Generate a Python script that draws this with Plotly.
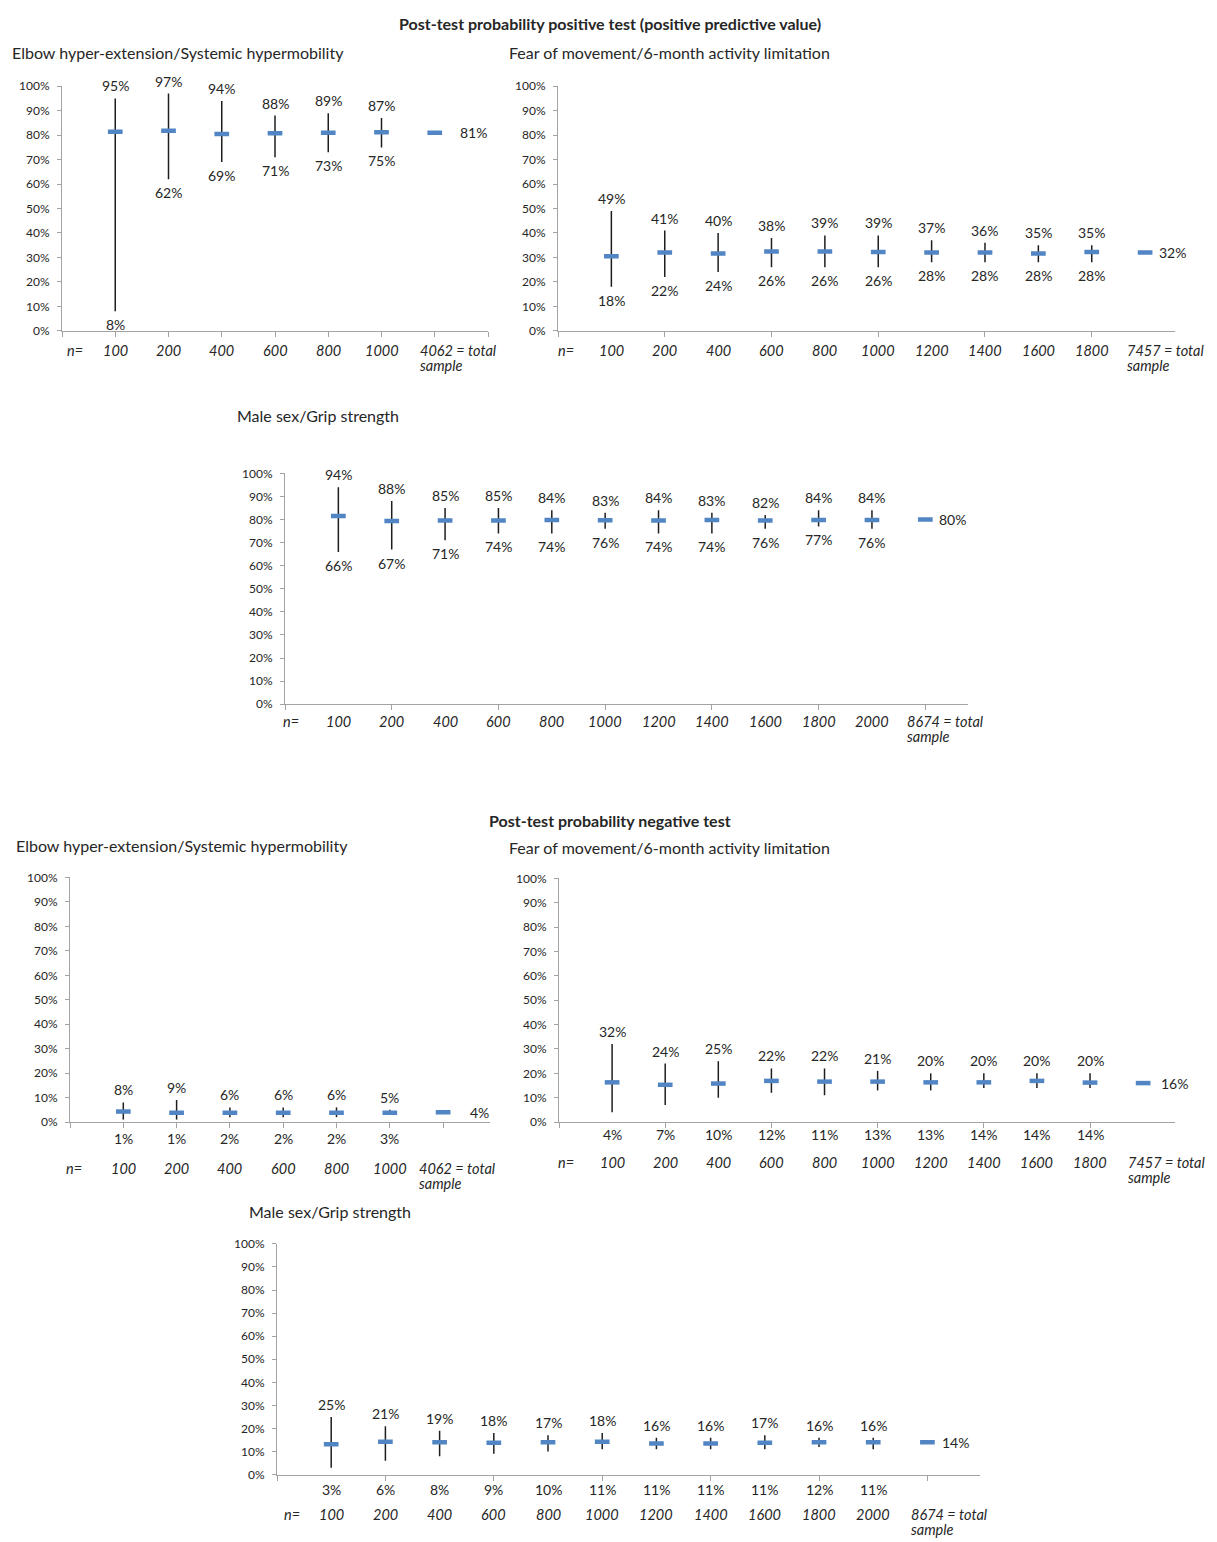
import plotly.graph_objects as go

W, H = 1217, 1542
FONT = "Lato"
TEXT = "#262626"
AXIS = "#a3a3a3"
BLUE = "#5285c4"
BAR = "#1e1e1e"

# ---------------- data ----------------
# Positive test (positive predictive value)
elbow_n = ["100", "200", "400", "600", "800", "1000"]
elbow_total = "4062"
elbow_ppv_est = [81.4, 81.8, 80.5, 80.8, 81.0, 81.2]
elbow_ppv_low = [8, 62, 69, 71, 73, 75]
elbow_ppv_high = [95, 97, 94, 88, 89, 87]
elbow_ppv_total = 81

fear_n = ["100", "200", "400", "600", "800", "1000", "1200", "1400", "1600", "1800"]
fear_total = "7457"
fear_ppv_est = [30.5, 32.0, 31.6, 32.4, 32.4, 32.2, 32.0, 32.0, 31.6, 32.2]
fear_ppv_low = [18, 22, 24, 26, 26, 26, 28, 28, 28, 28]
fear_ppv_high = [49, 41, 40, 38, 39, 39, 37, 36, 35, 35]
fear_ppv_total = 32

male_n = ["100", "200", "400", "600", "800", "1000", "1200", "1400", "1600", "1800", "2000"]
male_total = "8674"
male_ppv_est = [81.5, 79.4, 79.6, 79.6, 79.8, 79.7, 79.6, 79.8, 79.6, 79.8, 79.8]
male_ppv_low = [66, 67, 71, 74, 74, 76, 74, 74, 76, 77, 76]
male_ppv_high = [94, 88, 85, 85, 84, 83, 84, 83, 82, 84, 84]
male_ppv_total = 80

# Negative test
elbow_neg_est = [4.3, 3.8, 3.8, 3.8, 3.8, 3.8]
elbow_neg_low = [1, 1, 2, 2, 2, 3]
elbow_neg_high = [8, 9, 6, 6, 6, 5]
elbow_neg_total = 4

fear_neg_est = [16.3, 15.3, 15.8, 16.9, 16.6, 16.6, 16.3, 16.3, 16.9, 16.2]
fear_neg_low = [4, 7, 10, 12, 11, 13, 13, 14, 14, 14]
fear_neg_high = [32, 24, 25, 22, 22, 21, 20, 20, 20, 20]
fear_neg_total = 16

male_neg_est = [13.2, 14.2, 14.0, 13.8, 14.0, 14.2, 13.5, 13.5, 13.8, 14.0, 14.0]
male_neg_low = [3, 6, 8, 9, 10, 11, 11, 11, 11, 12, 11]
male_neg_high = [25, 21, 19, 18, 17, 18, 16, 16, 17, 16, 16]
male_neg_total = 14

y_ticks = [0, 10, 20, 30, 40, 50, 60, 70, 80, 90, 100]
y_tick_text = [f"{v}%" for v in y_ticks]

# ---------------- panel layout (pixels) ----------------
panels = [
    dict(n=elbow_n, total=elbow_total, est=elbow_ppv_est, low=elbow_ppv_low,
         high=elbow_ppv_high, tot=elbow_ppv_total, neg=False,
         box=(62, 488, 79, 326), xmax=8.0, dtick=1, nx=0.25,
         row=20, lowrow=0, totshift=-17, valshift=23),
    dict(n=fear_n, total=fear_total, est=fear_ppv_est, low=fear_ppv_low,
         high=fear_ppv_high, tot=fear_ppv_total, neg=False,
         box=(558, 1175, 79, 326), xmax=11.56, dtick=2, nx=0.15,
         row=20, lowrow=0, totshift=-20, valshift=12),
    dict(n=male_n, total=male_total, est=male_ppv_est, low=male_ppv_low,
         high=male_ppv_high, tot=male_ppv_total, neg=False,
         box=(285, 968, 470, 703), xmax=12.8, dtick=2, nx=0.12,
         row=17, lowrow=0, totshift=-20, valshift=12),
    dict(n=elbow_n, total=elbow_total, est=elbow_neg_est, low=elbow_neg_low,
         high=elbow_neg_high, tot=elbow_neg_total, neg=True,
         box=(70, 490, 878, 1125), xmax=7.88, dtick=1, nx=0.08,
         row=46, lowrow=16, totshift=-26, valshift=25),
    dict(n=fear_n, total=fear_total, est=fear_neg_est, low=fear_neg_low,
         high=fear_neg_high, tot=fear_neg_total, neg=True,
         box=(559, 1175, 879, 1125), xmax=11.6, dtick=2, nx=0.14,
         row=40, lowrow=12, totshift=-17, valshift=16),
    dict(n=male_n, total=male_total, est=male_neg_est, low=male_neg_low,
         high=male_neg_high, tot=male_neg_total, neg=True,
         box=(277, 980, 1248, 1481), xmax=12.97, dtick=2, nx=0.28,
         row=40, lowrow=15, totshift=-18, valshift=13),
]

fig = go.Figure()
annotations = []

for i, p in enumerate(panels, start=1):
    sfx = "" if i == 1 else str(i)
    xref, yref = "x" + sfx, "y" + sfx
    x0, x1, ytop, ybot = p["box"]
    xs = list(range(1, len(p["n"]) + 1))
    xt = len(p["n"]) + 1

    marker = dict(symbol="line-ew", size=10.5, color=BLUE,
                  line=dict(color=BLUE, width=4.5))

    fig.add_trace(go.Scatter(
        x=xs, y=p["est"], mode="markers", marker=marker,
        error_y=dict(type="data", symmetric=False,
                     array=[h - e for h, e in zip(p["high"], p["est"])],
                     arrayminus=[e - l for e, l in zip(p["est"], p["low"])],
                     color=BAR, thickness=1.5, width=0),
        xaxis=xref, yaxis=yref, showlegend=False, hoverinfo="skip"))
    fig.add_trace(go.Scatter(
        x=[xt], y=[p["tot"]], mode="markers", marker=marker,
        xaxis=xref, yaxis=yref, showlegend=False, hoverinfo="skip"))

    lab = dict(size=14, color=TEXT, family=FONT)
    for x, h in zip(xs, p["high"]):
        annotations.append(dict(x=x, y=h, xref=xref, yref=yref, text=f"{h}%",
                                showarrow=False, yanchor="bottom", yshift=2, font=lab))
    for x, l in zip(xs, p["low"]):
        if p["neg"]:
            annotations.append(dict(x=x, y=0, xref=xref, yref=yref, text=f"{l}%",
                                    showarrow=False, yanchor="middle",
                                    yshift=-p["lowrow"], font=lab))
        else:
            annotations.append(dict(x=x, y=l, xref=xref, yref=yref, text=f"{l}%",
                                    showarrow=False, yanchor="top", yshift=-3, font=lab))
    annotations.append(dict(x=xt, y=p["tot"], xref=xref, yref=yref, text=f"{p['tot']}%",
                            showarrow=False, xanchor="left", yanchor="middle",
                            xshift=p["valshift"], font=lab))

    # category labels along the x axis
    tick = dict(size=14.5, color=TEXT, family=FONT)
    for x, n in zip(xs, p["n"]):
        annotations.append(dict(x=x, y=0, xref=xref, yref=yref, text=f"<i>{n}</i>",
                                showarrow=False, yanchor="middle", yshift=-p["row"],
                                font=tick))
    annotations.append(dict(x=p["nx"], y=0, xref=xref, yref=yref, text="<i>n=</i>",
                            showarrow=False, yanchor="middle", yshift=-p["row"], font=tick))
    annotations.append(dict(x=xt, y=0, xref=xref, yref=yref,
                            text=f"<i>{p['total']} = total</i>", showarrow=False,
                            xanchor="left", yanchor="middle", xshift=p["totshift"],
                            yshift=-p["row"], font=tick))
    annotations.append(dict(x=xt, y=0, xref=xref, yref=yref, text="<i>sample</i>",
                            showarrow=False, xanchor="left", yanchor="middle",
                            xshift=p["totshift"], yshift=-p["row"] - 15, font=tick))

    fig.update_layout({
        "xaxis" + sfx: dict(domain=[x0 / W, x1 / W], range=[0, p["xmax"]],
                            anchor=yref, tickmode="linear", tick0=0, dtick=p["dtick"],
                            ticks="outside", ticklen=5, tickcolor=AXIS,
                            showticklabels=False, showline=True, linecolor=AXIS,
                            linewidth=1, showgrid=False, zeroline=False,
                            fixedrange=True),
        "yaxis" + sfx: dict(domain=[1 - ybot / H, 1 - ytop / H], range=[0, 100],
                            anchor=xref, tickmode="array", tickvals=y_ticks,
                            ticktext=y_tick_text, ticks="outside", ticklen=4,
                            tickcolor=AXIS, ticklabelstandoff=5,
                            tickfont=dict(size=12, color=TEXT, family=FONT),
                            showline=True, linecolor=AXIS, linewidth=1,
                            showgrid=False, zeroline=False, fixedrange=True),
    })

# headings
def heading(text, px, py, size, bold=False, center=False):
    annotations.append(dict(
        x=px / W, y=1 - py / H, xref="paper", yref="paper",
        text=f"<b>{text}</b>" if bold else text, showarrow=False,
        xanchor="center" if center else "left", yanchor="middle",
        font=dict(size=size, color=TEXT, family=FONT)))

heading("Post-test probability positive test (positive predictive value)", 610, 16, 16, True, True)
heading("Elbow hyper-extension/Systemic hypermobility", 10, 45, 16)
heading("Fear of movement/6-month activity limitation", 507, 45, 16)
heading("Male sex/Grip strength", 235, 411, 16)
heading("Post-test probability negative test", 610, 820, 16, True, True)
heading("Elbow hyper-extension/Systemic hypermobility", 14, 846, 16)
heading("Fear of movement/6-month activity limitation", 507, 848, 16)
heading("Male sex/Grip strength", 247, 1215, 16)

fig.update_layout(
    width=W, height=H, autosize=False,
    margin=dict(l=0, r=0, t=0, b=0),
    paper_bgcolor="white", plot_bgcolor="white",
    font=dict(family=FONT, color=TEXT),
    annotations=annotations,
    showlegend=False,
)

fig.write_html("out.html")
